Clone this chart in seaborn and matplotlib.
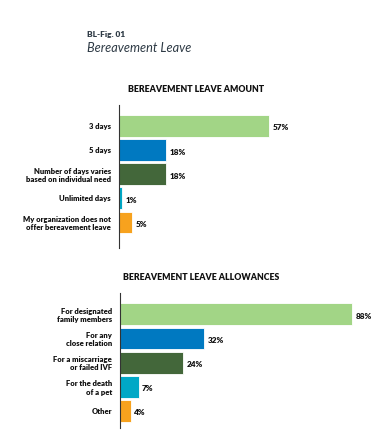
import matplotlib
matplotlib.use("Agg")
import matplotlib.pyplot as plt
import seaborn as sns
import pandas as pd

# data
amount_labels = ["3 days", "5 days", "Number of days varies\nbased on individual need",
                 "Unlimited days", "My organization does not\noffer bereavement leave"]
amount_values = [57, 18, 18, 1, 5]

allow_labels = ["For designated\nfamily members", "For any\nclose relation",
                "For a miscarriage\nor failed IVF", "For the death\nof a pet", "Other"]
allow_values = [88, 32, 24, 7, 4]

colors = ["#A2D586", "#0079C1", "#43673A", "#00A8C6", "#F7A21E"]

sns.set_theme(style="white")
plt.rcParams["font.family"] = ["Lato", "DejaVu Sans"]

fig = plt.figure(figsize=(3.78, 4.42), dpi=100)


def draw_panel(rect, labels, values, title, title_x, ylim):
    ax = fig.add_axes(rect)
    df = pd.DataFrame({"label": labels, "value": values})
    sns.barplot(data=df, x="value", y="label", hue="label", palette=colors,
                saturation=1, legend=False, orient="h", width=0.9, ax=ax,
                edgecolor="white", linewidth=0.6)
    ax.set_xlim(0, 90)
    ax.set_ylim(*ylim)
    ax.set_xlabel("")
    ax.set_ylabel("")
    ax.set_xticks([])
    sns.despine(ax=ax, top=True, right=True, bottom=True)
    ax.spines["left"].set_color("#333333")
    ax.spines["left"].set_linewidth(0.8)
    ax.tick_params(axis="y", length=0, pad=6)
    for t in ax.get_yticklabels():
        t.set_fontsize(5.5)
        t.set_fontweight("heavy")
        t.set_color("#111111")
    for i, v in enumerate(values):
        ax.text(v + 1.3, i + 0.08, f"{v}%", va="center", ha="left",
                fontsize=5.9, fontweight="heavy", color="#111111")
    fig.text(title_x, rect[1] + rect[3] + 0.035, title, ha="center", va="center",
             fontsize=6.3, fontweight="heavy", color="#111111")
    return ax


draw_panel([0.315, 0.439, 0.627, 0.3235], amount_labels, amount_values,
           "BEREAVEMENT LEAVE AMOUNT", 196 / 378, (5.06, -0.875))
draw_panel([0.318, 0.0317, 0.627, 0.305], allow_labels, allow_values,
           "BEREAVEMENT LEAVE ALLOWANCES", 201 / 378, (4.7, -0.87))

fig.text(87 / 378, 1 - 34 / 442, "BL-Fig. 01", ha="left", va="center",
         fontsize=6.0, fontweight="heavy", color="#2E3A45")
fig.text(87 / 378, 1 - 48 / 442, "Bereavement Leave", ha="left", va="center",
         fontsize=9.2, fontstyle="italic", color="#2E3A45")

fig.savefig("out.png", dpi=100)
